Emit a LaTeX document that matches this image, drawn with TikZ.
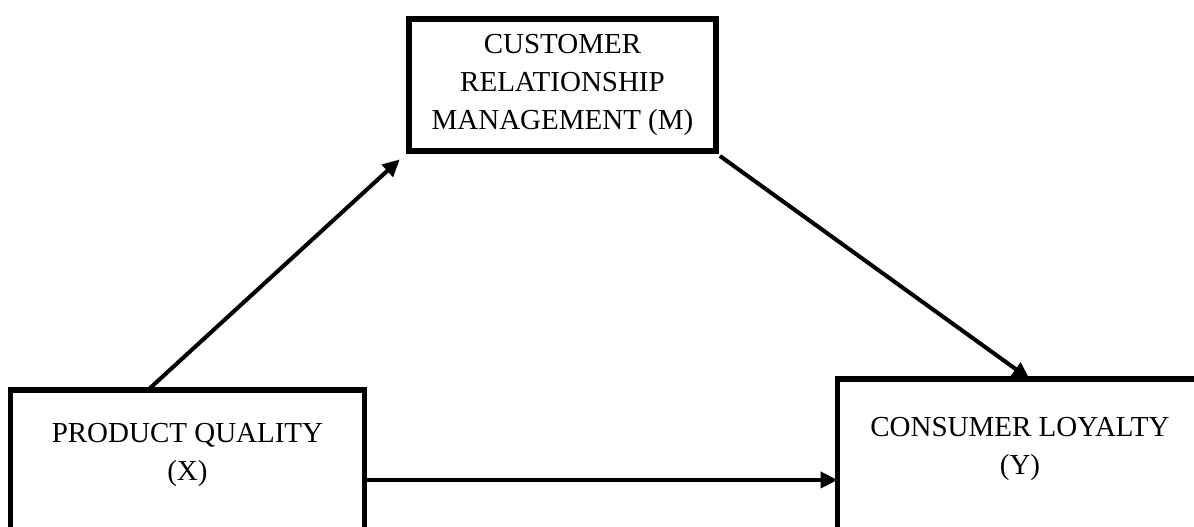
\documentclass[tikz,border=0pt]{standalone}
\usepackage{fontspec}
\setmainfont{Liberation Serif}
\usetikzlibrary{arrows.meta,positioning}

\begin{document}
\begin{tikzpicture}[x=0.02cm, y=-0.02cm,
    varbox/.style={draw, line width=3.1pt, outer sep=0pt, inner sep=0pt, anchor=north west},
    varlabel/.style={align=center, inner sep=0pt, font=\fontsize{16.5}{21.5}\selectfont},
    path/.style={line width=2.3pt, -{Triangle[length=0.34cm, width=0.32cm]}}]
    % Marco de la figura
    \clip (0,0) rectangle (1194,527);

    % Variable mediadora (M)
    \node[varbox, minimum width=6.14cm, minimum height=2.64cm, varlabel] (m) at (409,19)
         {CUSTOMER\\RELATIONSHIP\\MANAGEMENT (M)};

    % Variable independiente (X)
    \node[varbox, minimum width=7.08cm, minimum height=4.2cm] (x) at (10.5,390) {};
    \node[varlabel, anchor=north, below=0.66cm of x.north] (xlab) {PRODUCT QUALITY\\(X)};

    % Variable dependiente (Y)
    \node[varbox, minimum width=7.3cm, minimum height=4.2cm] (y) at (837.5,379) {};
    \node[varlabel, anchor=north, below=0.76cm of y.north] (ylab) {CONSUMER LOYALTY\\(Y)};

    % Caminos
    \draw[path, shorten >=0.25cm] ([xshift=2.75cm]x.north west) -- (m.south west);
    \draw[path] ([shift={(0.08cm,-0.1cm)}]m.south east) -- ([xshift=3.84cm]y.north west);
    \draw[path] ([yshift=-1.8cm]x.north east) -- ([yshift=-1.8cm]x.north east -| y.west);
\end{tikzpicture}
\end{document}
